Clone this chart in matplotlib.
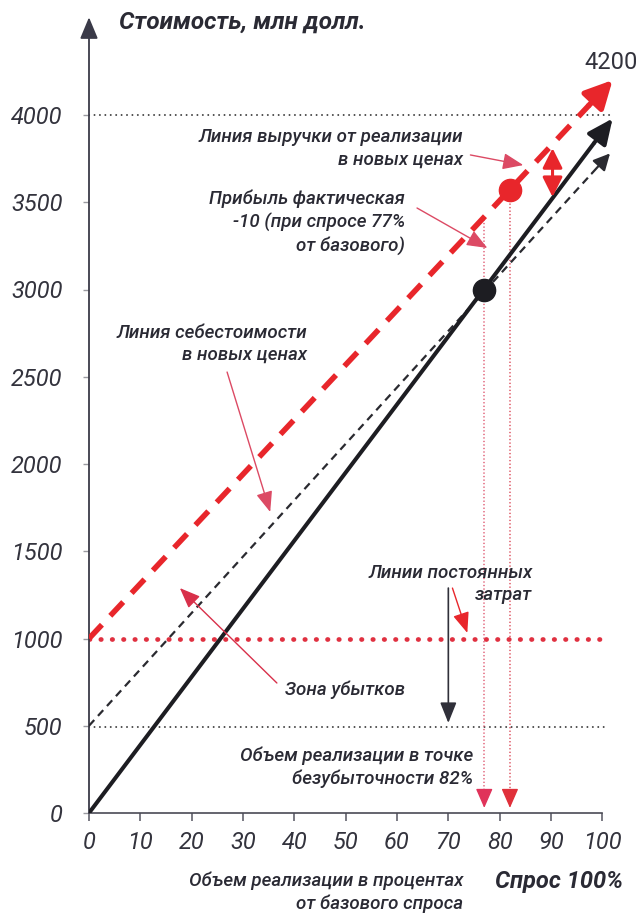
import matplotlib.pyplot as plt

plt.rcParams['font.family'] = ['Roboto', 'DejaVu Sans']

# demand, % of the base level
demand = [0, 102]
sales_old = [0, 3980]            # revenue line, old prices (solid black)
cost_demand = [0, 101.5]
cost_new = [500, 3780]           # cost line, new prices (dashed black)
revenue_new = [1000, 4200]       # revenue line, new prices (dashed red)

fixed_new = 1000
fixed_old = 490
top_level = 4000

actual_demand = 77
actual_value = 3000
breakeven_demand = 82
breakeven_value = 3570

gap_demand = 90.3
gap_values = [3530, 3810]

x_ticks = list(range(0, 101, 10))
y_ticks = list(range(0, 4001, 500))

RED = '#e8262b'
PINK = '#dc4a64'
BLACK = '#1d1d22'
TEXT = '#2a2a34'
DOT = (0, (0.1, 2.9))


def arrow_line(ax, xs, ys, color, lw, ls, head, ms, frac=0.95, z=3):
    # body of the line plus a separate arrow head at its far end
    xm = xs[0] + (xs[1] - xs[0]) * frac
    ym = ys[0] + (ys[1] - ys[0]) * frac
    ax.plot([xs[0], xm], [ys[0], ym], color=color, lw=lw, linestyle=ls,
            solid_capstyle='butt', dash_capstyle='butt', zorder=z)
    ax.annotate('', xy=(xs[1], ys[1]), xytext=(xm, ym),
                arrowprops=dict(arrowstyle=head, color=color, lw=lw,
                                mutation_scale=ms, shrinkA=0, shrinkB=0),
                zorder=z)


def note_arrow(ax, tail, tip, color=PINK, lw=1.0, ms=18):
    ax.annotate('', xy=tip, xytext=tail,
                arrowprops=dict(arrowstyle='-|>,head_length=0.7,head_width=0.28',
                                color=color, lw=lw, mutation_scale=ms,
                                shrinkA=0, shrinkB=0), zorder=4)


fig = plt.figure(figsize=(6.41, 9.14), dpi=100)

ax = fig.add_axes([89 / 641, 101 / 914, 539 / 641, 802.7 / 914])
ax.set_xlim(0, 105)
ax.set_ylim(0, 4600)

for s in ('top', 'right', 'left'):
    ax.spines[s].set_visible(False)
ax.spines['bottom'].set_bounds(0, 100)
ax.spines['bottom'].set_color('#4a4a55')
ax.spines['bottom'].set_linewidth(1.2)

# vertical axis with an arrow
ax.annotate('', xy=(0, 4560), xytext=(0, 0),
            arrowprops=dict(arrowstyle='-|>,head_length=0.6,head_width=0.25',
                            color='#3a3a48', lw=1.3, mutation_scale=22,
                            shrinkA=0, shrinkB=0), annotation_clip=False)

ax.set_xticks(x_ticks)
ax.set_yticks(y_ticks)
tick_kw = dict(fontstyle='italic', fontsize=17, color='#33333d')
ax.set_xticklabels([str(v) for v in x_ticks], **tick_kw)
ax.set_yticklabels([str(v) for v in y_ticks], **tick_kw)
ax.tick_params(axis='x', length=6, width=1.1, color='#555560', pad=7)
ax.tick_params(axis='y', length=4, width=1.0, color='#9a9aa0', pad=15)

# reference levels
ax.plot([0, 102], [top_level] * 2, color='#333', lw=1.3,
        linestyle=DOT, dash_capstyle='round', zorder=2)
ax.plot([0, 100.5], [fixed_old] * 2, color='#333', lw=1.3,
        linestyle=DOT, dash_capstyle='round', zorder=2)
ax.plot([0, 100.5], [fixed_new] * 2, color='#e03040', lw=3.4,
        linestyle=(0, (0.1, 2.3)), dash_capstyle='round', zorder=2)

# main lines
arrow_line(ax, demand, sales_old, BLACK, 2.9, '-',
           '-|>,head_length=0.55,head_width=0.25', 28, frac=0.965, z=4)
arrow_line(ax, cost_demand, cost_new, '#2a2a30', 1.6, (0, (3.5, 2.5)),
           '-|>,head_length=0.5,head_width=0.25', 20, frac=0.965, z=3)
arrow_line(ax, demand, revenue_new, RED, 4.0, (0, (3.4, 2.2)),
           '-|>,head_length=0.55,head_width=0.28', 30, frac=0.955, z=5)

# drop lines to the demand axis
ax.plot([actual_demand] * 2, [3400, 110], color=PINK, lw=1.1,
        linestyle=(0, (0.1, 2.2)), dash_capstyle='round', zorder=2)
ax.plot([breakeven_demand] * 2, [breakeven_value, 110], color='#d83848', lw=1.1,
        linestyle=(0, (0.1, 2.2)), dash_capstyle='round', zorder=2)
for xv, c in ((actual_demand, '#e0335a'), (breakeven_demand, '#e0303a')):
    ax.annotate('', xy=(xv, 29), xytext=(xv, 120),
                arrowprops=dict(arrowstyle='-|>,head_length=0.8,head_width=0.35',
                                color=c, lw=1.0, mutation_scale=15,
                                shrinkA=0, shrinkB=0))

ax.plot(actual_demand, actual_value, 'o', ms=16, color=BLACK, zorder=6)
ax.plot(breakeven_demand, breakeven_value, 'o', ms=16, color=RED, zorder=6)

# profit gap between the two revenue lines
ax.annotate('', xy=(gap_demand, gap_values[0]), xytext=(gap_demand, gap_values[1]),
            arrowprops=dict(arrowstyle='<|-|>,head_length=0.6,head_width=0.3',
                            color=RED, lw=2.2, mutation_scale=20,
                            shrinkA=0, shrinkB=0), zorder=6)

# labels and pointers
kw = dict(fontsize=13.5, fontstyle='italic', fontweight='medium', color=TEXT,
          linespacing=1.3)
ax.text(72.9, 3808, 'Линия выручки от реализации\nв новых ценах',
        ha='right', va='center', **kw)
ax.text(61.6, 3387, 'Прибыль фактическая\n-10 (при спросе 77%\nот базового)',
        ha='right', va='center', **kw)
ax.text(42.5, 2688, 'Линия себестоимости\nв новых ценах',
        ha='right', va='center', **kw)
ax.text(86.4, 1312, 'Линии постоянных\nзатрат', ha='right', va='center', **kw)
ax.text(49.9, 705, 'Зона убытков', ha='center', va='center', **kw)
ax.text(74.9, 261, 'Объем реализации в точке\nбезубыточности 82%',
        ha='right', va='center', **kw)
ax.text(72.9, -456, 'Объем реализации в процентах\nот базового спроса',
        ha='right', va='center', clip_on=False, **kw)
ax.text(79.1, -395, 'Спрос 100%', ha='left', va='center', fontsize=17,
        fontstyle='italic', fontweight='bold', color=TEXT, clip_on=False)
ax.text(101.8, 4298, '4200', ha='center', va='center', fontsize=17,
        color='#33333d')
ax.text(5.8, 4533, 'Стоимость, млн долл.', ha='left', va='center',
        fontsize=17.5, fontstyle='italic', fontweight='bold', color=TEXT)

note_arrow(ax, (74.3, 3771), (84.6, 3713))
note_arrow(ax, (63.9, 3467), (77.6, 3238))
note_arrow(ax, (26.9, 2527), (35.3, 1725))
note_arrow(ax, (70.0, 1289), (70.0, 516), color='#30303a', lw=1.2)
note_arrow(ax, (70.8, 1289), (73.7, 1032), color=RED)
note_arrow(ax, (36.6, 745), (17.7, 1289), color='#d8304a')

fig.savefig('out.png', dpi=100)
